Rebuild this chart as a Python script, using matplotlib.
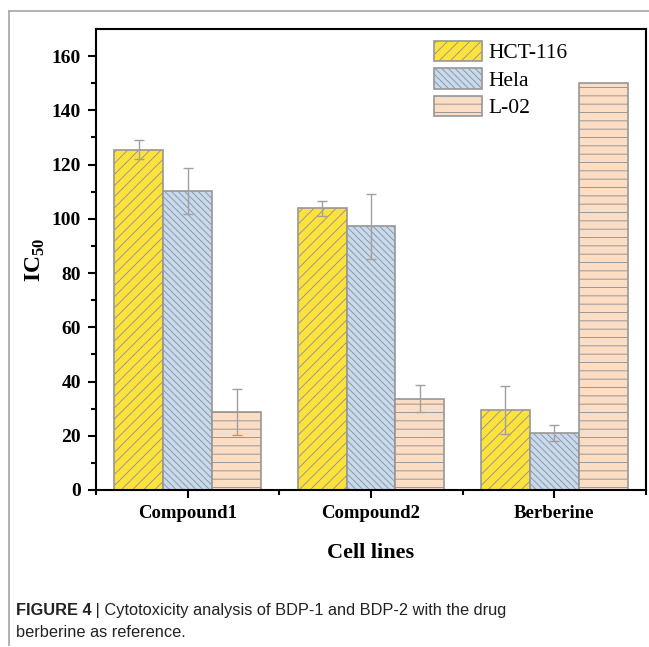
import numpy as np
import matplotlib
matplotlib.use("Agg")
import matplotlib.pyplot as plt
from matplotlib.lines import Line2D

plt.rcParams.update({
    "font.family": ["Liberation Serif", "DejaVu Serif"],
    "mathtext.fontset": "custom",
    "mathtext.rm": "Liberation Serif",
    "mathtext.bf": "Liberation Serif:bold",
    "hatch.linewidth": 0.7,
})

# IC50 values per sample, one list per cell line
groups = ["Compound1", "Compound2", "Berberine"]
cell_lines = ["HCT-116", "Hela", "L-02"]
hct116 = [125.5, 103.8, 29.5]
hela = [110.3, 97.2, 21.0]
l02 = [28.7, 33.7, 150.0]
hct116_err = [3.6, 2.9, 9.0]
hela_err = [8.4, 12.0, 3.1]
l02_err = [8.6, 5.0, 0.0]

values = [hct116, hela, l02]
errors = [hct116_err, hela_err, l02_err]
colors = ["#FFE33B", "#C6DAF0", "#FEDDC5"]
hatches = ["///", "\\\\\\\\\\", "--"]
edge = "#979797"

fig = plt.figure(figsize=(6.49, 6.47), dpi=100)
ax = fig.add_axes([0.148, 0.2427, 0.8474, 0.7125])

x = np.arange(1, len(groups) + 1)
w = 0.8 / 3
for i, (vals, errs) in enumerate(zip(values, errors)):
    pos = x + (i - 1) * w
    ax.bar(pos, vals, width=w, color=colors[i], edgecolor=edge, hatch=hatches[i],
           linewidth=1.2, label=cell_lines[i], zorder=2)
    mask = np.array(errs) > 0
    ax.errorbar(pos[mask], np.array(vals)[mask], yerr=np.array(errs)[mask], fmt="none",
                ecolor="#A0A0A0", elinewidth=1.0, capsize=3.5, capthick=1.0, zorder=3)

ax.set_xlim(0.5, 3.5)
ax.set_ylim(0, 170)
ax.set_xticks(x)
ax.set_xticks([0.5, 1.5, 2.5, 3.5], minor=True)
ax.set_xticklabels(groups, fontsize=13.5, fontweight="bold")
ax.set_yticks(np.arange(0, 161, 20))
ax.set_yticks(np.arange(10, 170, 20), minor=True)
for lab in ax.get_yticklabels():
    lab.set_fontsize(14)
    lab.set_fontweight("bold")

for sp in ax.spines.values():
    sp.set_linewidth(1.5)
ax.tick_params(which="major", length=6, width=1.5, pad=5)
ax.tick_params(which="minor", length=3.5, width=1.5)

ax.set_xlabel("Cell lines", fontsize=16, fontweight="bold", labelpad=15)
ax.set_ylabel(r"$\mathbf{IC}_{\mathbf{50}}$", fontsize=17, labelpad=3)

ax.legend(loc="upper left", bbox_to_anchor=(0.668, 0.937), bbox_transform=fig.transFigure,
          frameon=False, fontsize=15.5, handlelength=2.25, handleheight=1.1,
          labelspacing=0.22, handletextpad=0.3, borderpad=0, borderaxespad=0)

# thin grey frame around the panel
fig.add_artist(Line2D([0.0139, 1.0], [0.983, 0.983], color="#AAAAAA", lw=1.3,
                      transform=fig.transFigure))
fig.add_artist(Line2D([0.0139, 0.0139], [0.983, 0.003], color="#AAAAAA", lw=1.3,
                      transform=fig.transFigure))

# caption
cap_font = ["Liberation Sans", "DejaVu Sans"]
t1 = fig.text(0.024, 0.0495, "FIGURE 4", family=cap_font, fontsize=11.8,
              fontweight="bold", va="baseline", color="#222222")
fig.canvas.draw()
bb = t1.get_window_extent(fig.canvas.get_renderer())
fig.text(bb.x1 / fig.bbox.width, 0.0495,
         " | Cytotoxicity analysis of BDP-1 and BDP-2 with the drug",
         family=cap_font, fontsize=11.8, va="baseline", color="#222222")
fig.text(0.024, 0.0155, "berberine as reference.", family=cap_font, fontsize=11.8,
         va="baseline", color="#222222")

fig.savefig("out.png", dpi=100)
